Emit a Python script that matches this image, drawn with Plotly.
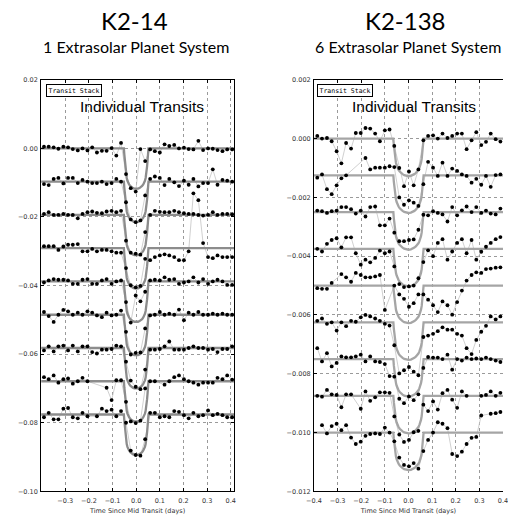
import plotly.graph_objects as go

# ---------------- data: K2-14 (left) ----------------
L_time = [-0.390, -0.370, -0.349, -0.329, -0.308, -0.288, -0.268, -0.247, -0.227, -0.206,
          -0.186, -0.166, -0.145, -0.125, -0.104, -0.084, -0.064, -0.043, -0.023, -0.002,
          0.018, 0.038, 0.059, 0.079, 0.100, 0.120, 0.140, 0.161, 0.181, 0.202,
          0.222, 0.242, 0.263, 0.283, 0.304, 0.324, 0.344, 0.365, 0.385, 0.406]
L_baseline_ppt = [0.0, -9.7, -19.4, -29.1, -38.8, -48.5, -58.2, -67.9, -77.6]
L_depth_ppt = 11.8
L_rows_ppt = [
    [0.5,0.5,0.3,-0.1,0.5,0.3,-0.2,-0.6,0.0,-0.6,0.3,-1.2,-0.7,-0.7,0.1,-2.1,1.6,-7.5,-11.6,-12.6,-0.2,-3.7,-0.3,-0.8,-1.2,1.2,0.7,1.0,0.0,0.2,-0.2,-0.3,2.2,-0.5,0.0,-0.1,-0.5,-0.8,-0.3,-0.3],
    [-0.7,-1.0,0.8,1.1,-0.5,1.1,1.1,-0.4,0.5,0.0,-0.4,-0.4,0.0,-0.7,-0.4,0.8,0.0,-6.0,-11.0,-11.8,-11.3,-4.0,0.8,1.5,1.1,-1.0,0.8,-0.2,-1.3,0.3,-0.9,0.8,-1.4,-0.4,-0.4,3.6,-0.9,0.5,0.3,0.0],
    [0.3,0.8,0.0,0.0,0.3,0.0,0.0,-1.0,0.3,0.8,1.0,0.6,0.5,1.0,1.2,0.8,1.2,-7.5,-11.0,-11.3,-11.6,-5.0,0.0,1.2,0.9,0.8,0.8,1.2,0.8,0.5,0.3,0.3,0.0,-0.2,0.0,0.8,0.0,0.3,0.3,0.2],
    [0.6,0.6,0.6,-0.5,0.5,1.0,1.0,1.2,-0.9,-0.9,-0.2,-0.9,-0.5,-0.5,-0.9,-1.3,-1.3,-5.8,-10.8,-11.4,-11.0,-3.1,-3.5,-2.6,-2.1,-1.8,-2.1,-2.6,-3.5,-3.5,-0.9,16.0,14.0,1.5,-2.6,-2.9,-2.1,-2.6,-2.6,-2.6],
    [-0.3,0.3,0.7,0.5,0.5,0.3,-0.7,-0.7,0.5,0.7,-0.7,-0.7,0.3,0.7,-0.7,0.0,0.3,-6.0,-12.0,-4.1,-5.8,-3.0,0.3,0.5,0.3,1.2,0.5,0.7,-0.7,-0.3,0.0,1.2,-0.3,0.7,-0.7,0.0,0.5,0.0,-1.0,-1.0],
    [0.8,-0.4,-2.1,0.0,1.4,1.0,0.0,0.6,0.0,1.0,0.6,-0.2,-0.7,0.6,-0.2,0.0,1.2,-5.0,-11.6,-11.1,-11.0,-4.0,-0.2,0.0,0.8,0.0,0.3,0.0,1.5,-1.6,0.6,0.0,0.8,0.0,0.0,0.3,0.0,0.3,0.0,0.0],
    [-0.7,0.5,-1.0,0.5,0.7,-0.7,0.7,-1.0,0.5,0.5,-1.2,-1.6,-0.5,-0.5,-0.3,0.7,0.5,-4.0,-9.5,-11.3,-12.0,-6.3,-0.5,-0.5,-0.3,0.5,1.9,-0.5,-0.5,-0.5,0.0,0.5,0.0,0.0,-0.5,-0.3,-1.2,-0.3,-0.3,0.5],
    [1.2,0.6,1.7,-0.4,0.6,0.8,-0.7,0.0,1.0,0.0,None,None,None,-1.9,-5.5,0.3,0.3,-6.0,-11.7,-12.2,-11.5,-2.1,0.0,0.0,None,-1.0,0.0,1.2,1.7,0.6,0.0,-0.4,-1.0,-0.4,-0.4,-0.4,1.0,0.6,1.7,0.5],
    [-0.8,0.5,-1.4,-1.4,1.7,1.9,-0.8,-1.1,0.5,-0.5,None,-0.5,1.7,1.0,1.4,-0.5,1.0,-2.4,-10.5,-11.8,-12.0,-7.2,0.5,0.5,-0.8,-0.5,-0.8,1.0,0.8,-0.2,-1.1,0.5,-0.5,-0.2,1.2,-0.2,0.2,-0.2,-0.8,-0.8],
]
L_model_t = [-0.402, -0.052, -0.050, -0.048, -0.046, -0.044, -0.042, -0.040, -0.037, -0.034,
             -0.030, -0.025, -0.020, -0.014, -0.008, 0.0,
             0.008, 0.014, 0.020, 0.025, 0.030, 0.034, 0.037, 0.040, 0.042, 0.044,
             0.046, 0.048, 0.050, 0.052, 0.414]
L_model_frac = [0, 0, 0.16, 0.31, 0.45, 0.57, 0.66, 0.73, 0.80, 0.85,
                0.89, 0.93, 0.96, 0.98, 0.995, 1.0,
                0.995, 0.98, 0.96, 0.93, 0.89, 0.85, 0.80, 0.73, 0.66, 0.57,
                0.45, 0.31, 0.16, 0, 0]

# ---------------- data: K2-138 (right) ----------------
R_time = [-0.386, -0.366, -0.345, -0.325, -0.304, -0.284, -0.264, -0.243, -0.223, -0.202,
          -0.182, -0.162, -0.141, -0.121, -0.100, -0.080, -0.060, -0.039, -0.019, 0.002,
          0.022, 0.042, 0.063, 0.083, 0.104, 0.124, 0.144, 0.165, 0.185, 0.206,
          0.226, 0.246, 0.267, 0.287, 0.308, 0.328, 0.348, 0.369, 0.389]
R_baseline_ppt = [0.0, -1.25, -2.5, -3.75, -5.0, -6.25, -7.5, -8.75, -10.0]
R_depth_ppt = 1.28
R_rows_ppt = [
    [0.09,0.0,0.02,-0.09,-0.43,-0.84,-0.15,-0.34,0.19,0.19,0.36,0.34,0.17,-0.09,0.28,0.31,-0.25,-1.0,-1.62,-1.12,-1.59,-1.05,-0.06,0.09,0.11,0.0,0.17,0.02,0.09,0.17,0.17,-0.36,-0.06,0.22,-0.22,-0.11,0.17,-0.02,-0.1],
    [-0.08,0.03,-0.47,-0.64,-0.34,-0.1,0.0,None,None,None,0.59,0.2,0.26,0.26,0.26,0.31,0.28,-0.75,-1.0,-0.85,-0.93,-1.04,-0.3,0.46,0.26,-0.02,0.43,-0.02,0.23,0.15,0.03,-0.02,-0.25,-0.12,-0.32,-0.02,-0.39,0.01,0.03],
    [0.05,0.03,-0.03,0.03,0.05,0.17,0.17,0.1,-0.05,0.05,-0.15,0.17,0.19,-0.45,-0.45,-0.22,-0.7,-0.99,-0.99,-0.95,-0.93,-0.6,-0.09,-0.11,0.03,-0.03,-0.08,-0.32,0.17,-0.11,0.06,0.19,0.0,0.17,-0.03,0.05,-0.05,-0.08,0.12],
    [0.0,-0.09,0.17,0.3,0.36,0.05,0.39,0.39,-0.15,-0.54,-0.37,-0.46,-0.31,-0.06,-0.15,-0.09,-0.6,-1.2,-1.3,-1.28,-1.25,-1.0,-0.45,-0.05,-0.25,0.2,0.33,-0.37,-0.09,0.2,0.33,-0.15,0.3,-0.37,-0.1,0.07,0.2,0.33,0.4],
    [-0.09,-0.11,-0.11,0.09,None,0.39,0.28,0.13,0.43,0.36,0.28,0.28,0.31,0.36,-0.83,None,0.0,-0.3,-0.45,-0.72,-0.6,-0.3,-0.3,-0.48,-0.67,-0.9,-0.54,-0.67,-0.99,-0.56,-0.17,0.17,0.36,0.45,0.43,0.56,0.58,0.61,0.62],
    [0.05,0.13,-0.05,0.0,-0.28,0.0,-0.13,0.05,0.02,0.17,0.25,0.2,0.13,0.05,-0.05,-0.11,-0.78,-1.74,-1.63,-1.52,-1.68,-1.8,-0.5,-0.45,-0.39,-0.3,-0.17,-0.25,-0.25,-0.39,-0.45,-0.88,-1.08,-0.6,-0.32,-0.12,0.2,0.1,0.2],
    [0.37,-0.08,0.2,-0.25,-0.13,0.09,0.06,0.06,0.09,0.15,-0.08,0.09,-0.08,-0.1,-0.17,-0.58,-0.6,-1.35,-1.5,-1.27,-1.4,-1.2,-0.3,0.07,0.05,0.05,0.0,0.15,-0.36,0.0,-0.05,0.05,0.0,0.02,0.0,0.05,0.0,-0.05,-0.1],
    [0.0,-0.03,0.2,0.05,0.03,-0.39,0.05,0.05,None,-0.44,0.15,-0.17,-0.05,0.12,0.12,0.1,-0.7,-1.32,-1.57,-1.5,-1.24,-1.19,-0.3,-0.52,-0.19,-0.47,0.09,0.2,-0.13,-0.41,0.15,0.0,None,None,0.0,0.03,0.15,0.0,0.1],
    [None,0.25,-0.03,0.22,0.3,0.08,0.25,-0.17,-0.39,-0.31,-0.11,-0.05,-0.03,-0.05,0.17,0.0,-0.3,-0.85,-1.1,-1.15,-1.04,-1.23,-0.63,-0.25,0.0,0.35,0.3,0.15,-0.73,-0.8,-0.65,-0.39,-0.18,-0.15,0.58,None,0.64,0.66,0.7],
]
R_model_t = [-0.40, -0.064, -0.062, -0.060, -0.058, -0.056, -0.053, -0.050, -0.046, -0.042,
             -0.037, -0.031, -0.025, -0.018, -0.010, 0.0,
             0.010, 0.018, 0.025, 0.031, 0.037, 0.042, 0.046, 0.050, 0.053, 0.056,
             0.058, 0.060, 0.062, 0.064, 0.40]
R_model_frac = [0, 0, 0.17, 0.32, 0.44, 0.54, 0.64, 0.71, 0.78, 0.83,
                0.875, 0.915, 0.945, 0.972, 0.99, 1.0,
                0.99, 0.972, 0.945, 0.915, 0.875, 0.83, 0.78, 0.71, 0.64, 0.54,
                0.44, 0.32, 0.17, 0, 0]

# tick labels
L_xticks = [-0.3, -0.2, -0.1, 0.0, 0.1, 0.2, 0.3, 0.4]
L_yticks = [-0.10, -0.08, -0.06, -0.04, -0.02, 0.00, 0.02]
R_xticks = [-0.4, -0.3, -0.2, -0.1, 0.0, 0.1, 0.2, 0.3, 0.4]
R_yticks = [-0.012, -0.010, -0.008, -0.006, -0.004, -0.002, 0.000, 0.002]

W, H = 508, 517
fig = go.Figure()


def add_panel(time, baselines, rows, depth, mt, mf, xa, ya, model_color):
    for base, row in zip(baselines, rows):
        fig.add_trace(go.Scatter(
            x=time, y=[None if v is None else (base + v) / 1000.0 for v in row],
            mode="lines", line=dict(color="#c4c4c4", width=0.8), connectgaps=True,
            xaxis=xa, yaxis=ya, showlegend=False, hoverinfo="skip"))
    for base in baselines:
        fig.add_trace(go.Scatter(
            x=mt, y=[(base - depth * f) / 1000.0 for f in mf],
            mode="lines", line=dict(color=model_color, width=2.3),
            xaxis=xa, yaxis=ya, showlegend=False, hoverinfo="skip"))
    for base, row in zip(baselines, rows):
        fig.add_trace(go.Scatter(
            x=time, y=[None if v is None else (base + v) / 1000.0 for v in row],
            mode="markers", marker=dict(color="black", size=3.8),
            xaxis=xa, yaxis=ya, showlegend=False))


add_panel(L_time, L_baseline_ppt, L_rows_ppt, L_depth_ppt, L_model_t, L_model_frac, "x", "y", "#8c8c8c")
add_panel(R_time, R_baseline_ppt, R_rows_ppt, R_depth_ppt, R_model_t, R_model_frac, "x2", "y2", "#a5a5a5")

tickfont = dict(family="DejaVu Sans", size=6.5, color="#333333")
common = dict(showgrid=True, gridcolor="#9a9a9a", gridwidth=0.7, griddash="dot",
              zeroline=False, showline=True, linecolor="black", linewidth=1,
              ticks="inside", ticklen=3, tickcolor="black", tickwidth=0.8,
              tickfont=tickfont)
title_font = dict(family="DejaVu Sans", size=6.5, color="#333333")

ydom = [1 - 495 / H, 1 - 77 / H]
fig.update_layout(
    width=W, height=H, margin=dict(l=0, r=0, t=0, b=0),
    paper_bgcolor="white", plot_bgcolor="white",
    xaxis=dict(domain=[34 / W, 232 / W], range=[-0.402, 0.414], tickvals=L_xticks,
               tickformat=".1f", mirror="ticks", anchor="y", ticklabelstandoff=3,
               title=dict(text="Time Since Mid Transit (days)", standoff=4, font=title_font),
               **common),
    yaxis=dict(domain=ydom, range=[-0.10, 0.02], tickvals=L_yticks, tickformat=".2f",
               mirror="ticks", anchor="x", ticklabelstandoff=1, **common),
    xaxis2=dict(domain=[314 / W, 1.0], range=[-0.4, 0.4], tickvals=R_xticks,
                tickformat=".1f", mirror="ticks", anchor="y2", ticklabeloverflow="allow",
                ticklabelstandoff=3,
                title=dict(text="Time Since Mid Transit (days)", standoff=4, font=title_font),
                **common),
    yaxis2=dict(domain=ydom, range=[-0.012, 0.002], tickvals=R_yticks, tickformat=".3f",
                mirror=False, anchor="x2", ticklabelstandoff=1, **common),
)

ann = []
ann.append(dict(text="K2-14", x=130 / W, y=1 - 17 / H, font=dict(family="Lato", size=24, color="black")))
ann.append(dict(text="1 Extrasolar Planet System", x=131 / W, y=1 - 43 / H,
                font=dict(family="Lato", size=16, color="black")))
ann.append(dict(text="K2-138", x=408 / W, y=1 - 17 / H, font=dict(family="Lato", size=24, color="black")))
ann.append(dict(text="6 Extrasolar Planet System", x=410 / W, y=1 - 43 / H,
                font=dict(family="Lato", size=16, color="black")))
for a in ann:
    a.update(xref="paper", yref="paper", showarrow=False, xanchor="center", yanchor="middle")
for x0, xc in [(39.5, 137.5), (317.5, 417)]:
    ann.append(dict(text="Transit Stack", x=x0 / W, y=1 - 81.5 / H, xref="paper", yref="paper",
                    xanchor="left", yanchor="top", showarrow=False,
                    font=dict(family="DejaVu Sans Mono", size=6.5, color="black"),
                    bordercolor="black", borderwidth=1, borderpad=1.5, bgcolor="white"))
    ann.append(dict(text="Individual Transits", x=xc / W, y=1 - 104 / H, xref="paper", yref="paper",
                    xanchor="center", yanchor="middle", showarrow=False,
                    font=dict(family="Liberation Sans", size=15.5, color="black")))
fig.update_layout(annotations=ann)

fig.write_html("out.html")
